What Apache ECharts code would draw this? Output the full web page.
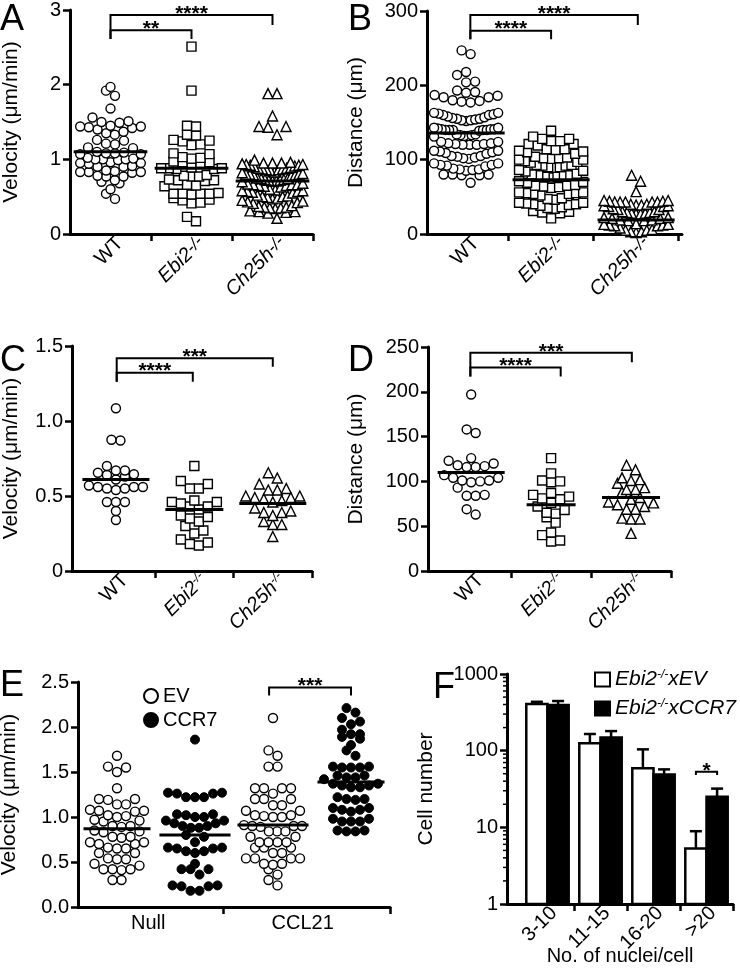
<!DOCTYPE html>
<html><head><meta charset="utf-8">
<script src="https://cdn.jsdelivr.net/npm/echarts@6/dist/echarts.min.js"></script>
<style>html,body{margin:0;padding:0;background:#fff}#c{width:740px;height:971px}</style>
</head><body><div id="c"></div>
<script>
// ---------------- DATA ----------------
const groupNames = ['WT', 'Ebi2', 'Ch25h'];
const koSuffix = '-/-';
// Panel A: velocity (µm/min)
const A_WT = [1.97,1.92,1.85,1.68,1.49,1.51,1.56,1.50,1.44,1.44,1.43,1.45,1.42,1.40,1.35,1.37,1.33,1.26,1.20,1.21,1.25,1.15,1.16,1.08,1.07,1.09,1.08,1.07,1.10,1.00,0.99,1.01,1.02,1.00,1.00,0.95,0.95,0.94,0.96,0.90,0.91,0.90,0.83,0.83,0.82,0.84,0.83,0.85,0.77,0.78,0.77,0.70,0.68,0.72,0.60,0.54,0.47];
const A_Ebi2 = [2.51,1.92,1.44,1.45,1.32,1.33,1.25,1.26,1.24,1.19,1.20,1.08,1.07,1.02,1.03,1.01,0.96,0.97,0.96,0.95,0.88,0.89,0.87,0.88,0.88,0.87,0.78,0.77,0.79,0.77,0.72,0.71,0.72,0.73,0.65,0.66,0.64,0.54,0.54,0.55,0.53,0.54,0.54,0.45,0.46,0.48,0.42,0.41,0.23,0.17];
const A_Ch25h = [1.88,1.88,1.58,1.44,1.43,1.44,1.33,0.99,0.95,0.93,0.95,0.92,0.94,0.91,0.96,0.93,0.90,0.95,0.92,0.87,0.86,0.88,0.85,0.89,0.86,0.87,0.88,0.80,0.79,0.81,0.82,0.78,0.80,0.83,0.79,0.80,0.73,0.72,0.74,0.71,0.75,0.72,0.73,0.70,0.74,0.71,0.66,0.65,0.67,0.64,0.66,0.63,0.68,0.65,0.66,0.58,0.57,0.59,0.56,0.60,0.58,0.57,0.55,0.50,0.49,0.51,0.48,0.52,0.50,0.47,0.43,0.42,0.44,0.41,0.45,0.36,0.35,0.37,0.34,0.36,0.38,0.35,0.30,0.29,0.31,0.28,0.30,0.21];
const A_means = [1.10, 0.88, 0.71];
// Panel B: distance (µm)
const B_WT = [247,242,218,214,205,204,184,191,187,193,184,190,186,180,178,177,179,163,160,161,162,163,160,158,155,153,152,153,155,157,154,156,143,141,140,140,139,140,141,140,140,141,142,143,134,133,132,132,131,133,134,124,122,120,120,120,121,121,122,124,112,110,108,109,111,112,105,102,103,104,101,105,95,93,91,92,93,95,88,86,87,85,87,80,79,80,79,80,69];
const B_Ebi2 = [139,131,128,125,121,119,121,125,128,113,114,110,108,111,112,114,104,102,100,100,101,103,102,97,96,98,93,92,90,89,90,92,93,85,84,86,80,79,77,76,77,78,79,81,70,71,69,66,65,63,62,64,65,56,55,54,52,54,55,56,47,46,48,42,40,39,38,40,41,42,35,34,36,31,29,28,30,21];
const B_Ch25h = [79,71,57,45,44,43,43,43,43,43,44,45,40,39,38,37,37,38,39,40,34,33,33,30,29,28,27,27,28,29,30,22,21,19,18,18,19,21,22,14,13,12,11,11,12,13,8,6,5,3,2,3,5];
const B_means = [136, 73, 19];
// Panel C: velocity (µm/min)
const C_WT = [1.085,0.87,0.875,0.70,0.64,0.67,0.655,0.67,0.645,0.61,0.63,0.55,0.54,0.56,0.56,0.57,0.56,0.55,0.46,0.46,0.46,0.40,0.34];
const C_Ebi2 = [0.70,0.58,0.60,0.55,0.55,0.46,0.45,0.47,0.43,0.41,0.43,0.46,0.37,0.33,0.36,0.35,0.30,0.27,0.25,0.21,0.19,0.18,0.17];
const C_Ch25h = [0.655,0.62,0.58,0.54,0.54,0.55,0.50,0.49,0.48,0.47,0.49,0.50,0.46,0.42,0.39,0.37,0.39,0.40,0.31,0.33,0.31,0.23];
const C_means = [0.61, 0.41, 0.45];
// Panel D: distance (µm)
const D_WT = [197,154,158,123,118,116,116,117,120,126,104,101,99,100,101,104,107,93,84,84,85,63,69];
const D_Ebi2 = [126,109,101,99,100,85,81,80,83,87,72,76,64,65,68,60,54,40,33,34,43];
const D_Ch25h = [118,113,101,98,102,104,91,91,93,88,82,72,69,77,80,74,76,69,58,58,59,42];
const D_means = [110, 74, 82];
// Panel E: velocity (µm/min), EV vs CCR7, Null vs CCL21
const E_conditions = ['Null', 'CCL21'];
const E_EV_Null = [1.68,1.56,1.55,1.50,1.32,1.20,1.20,1.19,1.14,1.14,1.08,1.07,1.07,1.06,1.02,1.01,1.00,0.97,0.96,0.95,0.90,0.90,0.89,0.85,0.84,0.83,0.78,0.78,0.77,0.72,0.72,0.70,0.70,0.66,0.65,0.65,0.60,0.60,0.54,0.53,0.53,0.48,0.46,0.42,0.42,0.42,0.41,0.30,0.30];
const E_CCR7_Null = [1.86,1.27,1.26,1.22,1.22,1.22,1.26,1.27,1.03,1.00,0.96,0.96,1.00,1.02,1.03,0.93,0.90,0.88,0.88,0.90,0.93,0.80,0.78,0.72,0.66,0.65,0.62,0.60,0.62,0.65,0.66,0.48,0.42,0.42,0.42,0.36,0.24,0.23,0.18,0.18,0.23,0.24];
const E_EV_CCL21 = [2.10,1.74,1.68,1.56,1.56,1.32,1.32,1.32,1.32,1.26,1.20,1.20,1.20,1.13,1.13,1.07,1.07,1.02,1.01,1.00,1.00,1.02,0.90,0.89,0.90,0.90,0.91,0.84,0.84,0.84,0.78,0.78,0.72,0.72,0.72,0.72,0.66,0.66,0.66,0.60,0.60,0.54,0.54,0.54,0.54,0.48,0.47,0.48,0.42,0.36,0.30,0.24];
const E_CCR7_CCL21 = [2.21,2.16,2.10,2.06,2.03,1.97,1.92,1.92,1.89,1.87,1.80,1.74,1.68,1.56,1.55,1.55,1.55,1.56,1.46,1.44,1.42,1.44,1.46,1.37,1.35,1.33,1.33,1.35,1.37,1.22,1.20,1.19,1.20,1.10,1.08,1.06,1.08,1.10,0.98,0.95,0.95,0.95,0.98,0.85,0.84,0.84,0.85];
const E_means = [0.87, 0.80, 0.91, 1.39];
// Panel F: cell number (log), by number of nuclei per cell
const F_cats = ['3-10', '11-15', '16-20', '>20'];
const F_EV = [406, 125, 59, 5.3];
const F_EV_err = [434, 165, 104, 8.9];
const F_CCR7 = [394, 149, 49, 25];
const F_CCR7_err = [444, 180, 57, 32];
const F_minorTicks = [2,3,4,5,6,7,8,9,20,30,40,50,60,70,80,90,200,300,400,500,600,700,800,900];
// significance annotations (x in group units, y in data units)
const A_sig = [{x1:0.5,x2:2.5,y:2.933,yl:2.61,yr:2.8,t:'****'},{x1:0.5,x2:1.5,y:2.73,yl:2.61,yr:2.61,t:'**'}];
const B_sig = [{x1:0.55,x2:2.52,y:294.6,yl:262,yr:281,t:'****'},{x1:0.55,x2:1.5,y:273.5,yl:262,yr:262,t:'****'}];
const C_sig = [{x1:0.51,x2:2.5,y:1.418,yl:1.262,yr:1.362,t:'***'},{x1:0.51,x2:1.48,y:1.322,yl:1.262,yr:1.262,t:'****'}];
const D_sig = [{x1:0.49,x2:2.51,y:243.6,yl:217,yr:233,t:'***'},{x1:0.49,x2:1.62,y:227,yl:217,yr:217,t:'****'}];
const E_sig = [{x1:2.45,x2:3.5,y:2.44,yl:2.35,yr:2.35,t:'***'}];
const F_sig = [{x1:3.3,x2:3.7,y:53,yl:48,yr:48,t:'*'}];

// ---------------- LAYOUT ----------------
const FONT = 'Liberation Sans, Arial, Helvetica, sans-serif';
const P = {
  A:{grid:{left:70,top:10,width:243,height:224}, x:[0,3], y:[0,3], yi:1},
  B:{grid:{left:427,top:11,width:255,height:223}, x:[0.04,3.04], y:[0,300], yi:100},
  C:{grid:{left:72,top:346,width:240,height:225}, x:[-0.06,3], y:[0,1.5], yi:0.5},
  D:{grid:{left:428,top:347,width:243,height:224}, x:[-0.04,3], y:[0,250], yi:50},
  E:{grid:{left:78,top:682,width:312,height:225}, x:[0,4], y:[0,2.5], yi:0.5},
  F:{grid:{left:507,top:674,width:226,height:230}, x:[-0.264,4], y:[1,1000]}
};
const keys = ['A','B','C','D','E','F'];
const SYM = 9;

function swarm(vals, c, pan, maxWunits){
  const pxX = pan.grid.width/(pan.x[1]-pan.x[0]);
  const pxY = pan.grid.height/(pan.y[1]-pan.y[0]);
  const maxW = maxWunits*pxX;
  const s = vals.slice().sort((a,b)=>a-b);
  const binH = SYM*0.95/pxY;
  const out=[]; let i=0, maxOff=0;
  while(i<s.length){
    let j=i; while(j<s.length && s[j] < s[i]+binH) j++;
    const row=s.slice(i,j), n=row.length;
    let sp=SYM; if(n>1 && (n-1)*SYM > maxW-SYM) sp=(maxW-SYM)/(n-1);
    row.forEach((v,k)=>{
      let slot;
      if(n%2===1) slot = k===0?0:(k%2===1?(k+1)/2:-k/2);
      else slot = k%2===0?(k/2+0.5):-((k-1)/2+0.5);
      const off=slot*sp; maxOff=Math.max(maxOff,Math.abs(off));
      out.push([c+off/pxX, v]);
    });
    i=j;
  }
  return {pts:out, half:(maxOff+SYM/2+2)/pxX};
}

const grids = keys.map(k=>Object.assign({outerBoundsMode:'none', containLabel:false}, P[k].grid));
const axLine = {show:true, onZero:false, lineStyle:{color:'#000', width:3}};
const axTick = {show:true, length:7, lineStyle:{color:'#000', width:2.5}};

function catFmt(small){
  return {
    fmt: v=>{const i=Math.floor(v); return i===0?'{n|WT}':'{i|'+groupNames[i]+'}{s|'+koSuffix+'}';},
    rich:{n:{fontSize:20,fontFamily:FONT,color:'#000'}, i:{fontSize:20,fontStyle:'italic',fontFamily:FONT,color:'#000'}, s:{fontSize:small?12:17,fontStyle:'italic',fontFamily:FONT,color:'#000',verticalAlign:'top'}}
  };
}
const xAxes = [];
const yAxes = [];
['A','B','C','D'].forEach((k,gi)=>{
  const cf = catFmt(k==='C'||k==='D');
  xAxes.push({type:'value', gridIndex:gi, min:P[k].x[0], max:P[k].x[1], axisLine:axLine, splitLine:{show:false},
    axisTick:Object.assign({customValues:[1,2,3]},axTick),
    axisLabel:{customValues:[0.62,1.62,2.62], rotate:45, margin:6, formatter:cf.fmt, rich:cf.rich, fontSize:20, fontFamily:FONT, color:'#000'}});
});
xAxes.push({type:'value', gridIndex:4, min:0, max:4, axisLine:axLine, splitLine:{show:false},
  axisTick:Object.assign({customValues:[1.86,4]},axTick),
  axisLabel:{customValues:[0.9,2.88], margin:6, formatter:v=>v<2?E_conditions[0]:E_conditions[1], fontSize:20, fontFamily:FONT, color:'#000'}});
xAxes.push({type:'value', gridIndex:5, min:P.F.x[0], max:4, axisLine:axLine, splitLine:{show:false},
  axisTick:Object.assign({customValues:[1,2,3,4]},axTick),
  axisLabel:{customValues:[0.62,1.62,2.62,3.62], rotate:45, margin:6, formatter:v=>F_cats[Math.floor(v)], fontSize:20, fontFamily:FONT, color:'#000'},
  name:'No. of nuclei/cell', nameLocation:'middle', nameGap:42, nameMoveOverlap:false, nameTextStyle:{fontSize:20, fontFamily:FONT, color:'#000'}});

const yNames = {A:['Velocity (μm/min)',48], B:['Distance (μm)',60], C:['Velocity (μm/min)',50], D:['Distance (μm)',61], E:['Velocity (μm/min)',58]};
['A','B','C','D','E'].forEach((k,gi)=>{
  let fmt;
  if(k==='A'||k==='B'||k==='D') fmt = v=>String(v);
  else if(k==='C') fmt = v=>v===0?'0':v.toFixed(1);
  else fmt = v=>v.toFixed(1);
  yAxes.push({type:'value', gridIndex:gi, min:P[k].y[0], max:P[k].y[1], interval:P[k].yi, axisLine:axLine, axisTick:axTick, splitLine:{show:false},
    axisLabel:{formatter:fmt, fontSize:20, fontFamily:FONT, color:'#000', margin:9},
    name:yNames[k][0], nameLocation:'middle', nameGap:yNames[k][1], nameMoveOverlap:false, nameTextStyle:{fontSize:21, fontFamily:FONT, color:'#000'}});
});
yAxes.push({type:'log', gridIndex:5, min:1, max:1000, logBase:10, axisLine:axLine, axisTick:axTick, splitLine:{show:false},
  axisLabel:{formatter:v=>String(Math.round(v)), fontSize:20, fontFamily:FONT, color:'#000', margin:9},
  name:'Cell number', nameLocation:'middle', nameGap:70, nameMoveOverlap:false, nameTextStyle:{fontSize:21, fontFamily:FONT, color:'#000'}});

const series = [];
const open = {color:'#fff', borderColor:'#000', borderWidth:1.4, opacity:1};
const filled = {color:'#000', borderColor:'#000', borderWidth:1, opacity:1};
const shapes = ['circle','rect','triangle'];

function meanSeries(gi, items){
  return {type:'custom', xAxisIndex:gi, yAxisIndex:gi, clip:false, silent:true, z:4,
    data: items.map(m=>[m.c, m.v, m.h]),
    renderItem(params, api){
      const c=api.value(0), v=api.value(1), h=api.value(2);
      const p1=api.coord([c-h,v]), p2=api.coord([c+h,v]);
      return {type:'line', shape:{x1:p1[0],y1:p1[1],x2:p2[0],y2:p2[1]}, style:{stroke:'#000', lineWidth:3}};
    }};
}
function sigSeries(gi, list){
  return {type:'custom', xAxisIndex:gi, yAxisIndex:gi, clip:false, silent:true, z:6,
    data: list.map(b=>[b.x1,b.y,b.x2,b.yl,b.yr]),
    renderItem(params, api){
      const b=list[params.dataIndex];
      const pL=api.coord([b.x1,b.yl]), pTL=api.coord([b.x1,b.y]), pTR=api.coord([b.x2,b.y]), pR=api.coord([b.x2,b.yr]);
      return {type:'group', children:[
        {type:'polyline', shape:{points:[pL,pTL,pTR,pR]}, style:{stroke:'#000', lineWidth:2, fill:null}},
        {type:'text', style:{text:b.t, x:(pTL[0]+pTR[0])/2, y:pTL[1]-1, align:'center', verticalAlign:'middle', fontSize:21, fontWeight:'bold', fontFamily:FONT, fill:'#000'}}
      ]};
    }};
}

const panelData = {A:[A_WT,A_Ebi2,A_Ch25h,A_means], B:[B_WT,B_Ebi2,B_Ch25h,B_means], C:[C_WT,C_Ebi2,C_Ch25h,C_means], D:[D_WT,D_Ebi2,D_Ch25h,D_means]};
['A','B','C','D'].forEach((k,gi)=>{
  const d = panelData[k];
  const means=[];
  [0,1,2].forEach(g=>{
    const sw = swarm(d[g], g+0.5, P[k], 0.86);
    series.push({type:'scatter', name:k+'_'+groupNames[g], xAxisIndex:gi, yAxisIndex:gi, symbol:shapes[g], symbolSize:g===2?10:SYM, itemStyle:open, data:sw.pts, silent:true, z:3});
    means.push({c:g+0.5, v:d[3][g], h:sw.half});
  });
  series.push(meanSeries(gi, means));
});
series.push(sigSeries(0,A_sig), sigSeries(1,B_sig), sigSeries(2,C_sig), sigSeries(3,D_sig));

// Panel E
(function(){
  const groups=[E_EV_Null,E_CCR7_Null,E_EV_CCL21,E_CCR7_CCL21];
  const sw = groups.map((g,i)=>swarm(g, i+0.5, P.E, 0.86));
  series.push({type:'scatter', name:'EV', xAxisIndex:4, yAxisIndex:4, symbol:'circle', symbolSize:SYM, itemStyle:open, data:sw[0].pts.concat(sw[2].pts), silent:true, z:3});
  series.push({type:'scatter', name:'CCR7', xAxisIndex:4, yAxisIndex:4, symbol:'circle', symbolSize:SYM, itemStyle:filled, data:sw[1].pts.concat(sw[3].pts), silent:true, z:3});
  series.push(meanSeries(4, groups.map((g,i)=>({c:i+0.5, v:E_means[i], h:sw[i].half}))));
  series.push(sigSeries(4,E_sig));
})();

// Panel F
function barSeries(name, vals, errs, dx, style){
  const bw=0.2;
  return {type:'custom', name, xAxisIndex:5, yAxisIndex:5, clip:false, silent:true, z:3, itemStyle:style,
    data: vals.map((v,i)=>[i+0.5+dx, v]),
    renderItem(params, api){
      const x=api.value(0), v=api.value(1), e=errs[params.dataIndex];
      const pT=api.coord([x-bw,v]), pB=api.coord([x+bw,1]);
      const pC=api.coord([x,v]), pE=api.coord([x,e]);
      return {type:'group', children:[
        {type:'line', shape:{x1:pC[0],y1:pC[1],x2:pE[0],y2:pE[1]}, style:{stroke:'#000', lineWidth:2.5}},
        {type:'line', shape:{x1:pE[0]-6,y1:pE[1],x2:pE[0]+6,y2:pE[1]}, style:{stroke:'#000', lineWidth:2.5}},
        {type:'rect', shape:{x:pT[0],y:pT[1],width:pB[0]-pT[0],height:pB[1]-pT[1]}, style:{fill:style.color, stroke:'#000', lineWidth:2.5}}
      ]};
    }};
}
series.push(barSeries('Ebi2-/-xEV', F_EV, F_EV_err, -0.2, {color:'#fff', borderColor:'#000', borderWidth:2}));
series.push(barSeries('Ebi2-/-xCCR7', F_CCR7, F_CCR7_err, 0.2, {color:'#000', borderColor:'#000', borderWidth:2}));
series.push({type:'custom', xAxisIndex:5, yAxisIndex:5, clip:false, silent:true, z:5,
  data:F_minorTicks.map(v=>[P.F.x[0], v]),
  renderItem(params, api){
    const p=api.coord([api.value(0), api.value(1)]);
    return {type:'line', shape:{x1:p[0]-4,y1:p[1],x2:p[0],y2:p[1]}, style:{stroke:'#000', lineWidth:1.5}};
  }});
series.push(sigSeries(5,F_sig));

const letters = [['A',0,2],['B',348,2],['C',0,343],['D',348,343],['E',0,668],['F',433,670]];
const option = {
  animation:false,
  backgroundColor:'#fff',
  title: letters.map(l=>({text:l[0], left:l[1], top:l[2], padding:0, textStyle:{fontSize:36, fontWeight:'normal', fontFamily:FONT, color:'#000'}})),
  grid: grids, xAxis: xAxes, yAxis: yAxes,
  legend:[
    {data:['EV','CCR7'], orient:'vertical', left:138, top:681, itemWidth:14, itemHeight:14, itemGap:4, selectedMode:false,
      textStyle:{fontSize:20, fontFamily:FONT, color:'#000'}},
    {data:['Ebi2-/-xEV','Ebi2-/-xCCR7'], orient:'vertical', left:589, top:664, itemWidth:15, itemHeight:14, itemGap:8, icon:'rect', selectedMode:false,
      formatter:n=>'{i|Ebi2}{s|'+koSuffix+'}{i|'+n.split(koSuffix)[1]+'}',
      textStyle:{fontSize:21, fontFamily:FONT, color:'#000', rich:{i:{fontSize:21,fontStyle:'italic',fontFamily:FONT,color:'#000'}, s:{fontSize:12,fontStyle:'italic',fontFamily:FONT,color:'#000',verticalAlign:'top'}}}}
  ],
  series
};
const chart = echarts.init(document.getElementById('c'), null, {renderer:'canvas'});
chart.setOption(option);
</script></body></html>
